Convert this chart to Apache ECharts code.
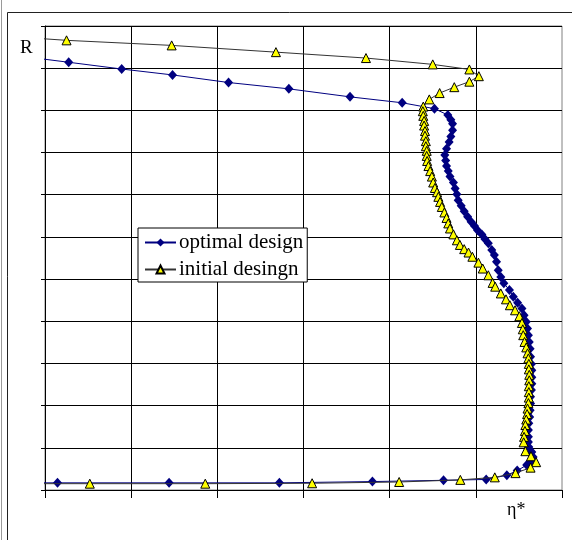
<!DOCTYPE html>
<html>
<head>
<meta charset="utf-8">
<script src="https://cdn.jsdelivr.net/npm/echarts@6/dist/echarts.min.js"></script>
<style>
  html, body { margin: 0; padding: 0; background: #ffffff; }
  #chart { width: 572px; height: 540px; }
</style>
</head>
<body>
<div id="chart"></div>
<script>
// Axis settings (no tick labels are printed on the reference)
var etaMin = 0, etaMax = 1.2, etaStep = 0.2;
var rMin = 0, rMax = 1.1, rStep = 0.1;

var seriesNames = ['optimal design', 'initial desingn'];

// optimal design (eta*, R)
var optimalEta = [-0.007, 0.055, 0.178, 0.296, 0.426, 0.566, 0.708, 0.829, 0.904, 0.935, 0.942, 0.946, 0.946, 0.942, 0.938, 0.932, 0.928, 0.930, 0.932, 0.936, 0.940, 0.948, 0.952, 0.956, 0.959, 0.966, 0.973, 0.981, 0.989, 0.997, 1.004, 1.014, 1.021, 1.029, 1.037, 1.043, 1.048, 1.052, 1.058, 1.065, 1.078, 1.087, 1.097, 1.107, 1.112, 1.117, 1.120, 1.122, 1.124, 1.126, 1.127, 1.129, 1.130, 1.130, 1.130, 1.129, 1.127, 1.127, 1.126, 1.125, 1.123, 1.122, 1.122, 1.122, 1.123, 1.130, 1.133, 1.127, 1.118, 1.096, 1.072, 1.024, 0.925, 0.760, 0.544, 0.288, 0.029, -0.007];
var optimalR = [1.022, 1.014, 0.998, 0.984, 0.966, 0.951, 0.932, 0.918, 0.904, 0.889, 0.878, 0.868, 0.853, 0.838, 0.825, 0.809, 0.794, 0.781, 0.768, 0.756, 0.743, 0.729, 0.715, 0.701, 0.687, 0.674, 0.661, 0.648, 0.636, 0.626, 0.616, 0.606, 0.595, 0.585, 0.569, 0.557, 0.541, 0.521, 0.505, 0.490, 0.474, 0.458, 0.444, 0.430, 0.414, 0.399, 0.383, 0.367, 0.351, 0.335, 0.316, 0.299, 0.284, 0.267, 0.252, 0.237, 0.221, 0.205, 0.189, 0.173, 0.158, 0.142, 0.126, 0.114, 0.102, 0.090, 0.078, 0.066, 0.059, 0.046, 0.035, 0.025, 0.023, 0.020, 0.017, 0.017, 0.017, 0.017];

// initial design (eta*, R)
var initialEta = [-0.007, 0.050, 0.294, 0.536, 0.745, 0.900, 0.985, 1.007, 0.985, 0.950, 0.916, 0.892, 0.878, 0.877, 0.878, 0.880, 0.880, 0.882, 0.882, 0.884, 0.884, 0.886, 0.886, 0.887, 0.890, 0.894, 0.898, 0.901, 0.905, 0.910, 0.913, 0.917, 0.921, 0.927, 0.932, 0.936, 0.940, 0.948, 0.956, 0.963, 0.973, 0.983, 0.992, 1.006, 1.016, 1.029, 1.039, 1.045, 1.058, 1.070, 1.079, 1.091, 1.101, 1.107, 1.109, 1.110, 1.113, 1.117, 1.120, 1.122, 1.123, 1.123, 1.124, 1.124, 1.123, 1.123, 1.123, 1.122, 1.120, 1.119, 1.117, 1.115, 1.114, 1.112, 1.111, 1.115, 1.128, 1.140, 1.127, 1.092, 1.044, 0.964, 0.822, 0.620, 0.372, 0.104, -0.007];
var initialR = [1.070, 1.066, 1.054, 1.038, 1.024, 1.009, 0.997, 0.981, 0.968, 0.955, 0.941, 0.926, 0.909, 0.898, 0.887, 0.875, 0.864, 0.851, 0.840, 0.827, 0.815, 0.804, 0.792, 0.780, 0.768, 0.756, 0.743, 0.729, 0.716, 0.706, 0.695, 0.683, 0.671, 0.658, 0.645, 0.632, 0.620, 0.606, 0.592, 0.581, 0.571, 0.563, 0.553, 0.539, 0.525, 0.509, 0.491, 0.482, 0.466, 0.452, 0.438, 0.426, 0.412, 0.396, 0.381, 0.367, 0.351, 0.338, 0.324, 0.312, 0.299, 0.286, 0.273, 0.260, 0.246, 0.232, 0.219, 0.206, 0.193, 0.180, 0.167, 0.154, 0.140, 0.126, 0.113, 0.092, 0.080, 0.066, 0.053, 0.040, 0.030, 0.024, 0.019, 0.016, 0.015, 0.015, 0.015];

function zip(xs, ys) {
  var out = [];
  for (var i = 0; i < xs.length; i++) out.push([xs[i], ys[i]]);
  return out;
}

var chart = echarts.init(document.getElementById('chart'), null, { renderer: 'canvas' });
var serif = 'Liberation Serif, Times New Roman, serif';

chart.setOption({
  animation: false,
  backgroundColor: '#ffffff',
  grid: {
    left: 45, top: 26, right: 10, bottom: 50,
    show: true, borderColor: '#808080', borderWidth: 1, backgroundColor: 'transparent'
  },
  graphic: [
    { type: 'line', shape: { x1: 1.5, y1: 0, x2: 1.5, y2: 540 }, style: { stroke: '#9a9a9a', lineWidth: 1 } },
    { type: 'line', shape: { x1: 7.5, y1: 12.5, x2: 7.5, y2: 540 }, style: { stroke: '#222', lineWidth: 1 } },
    { type: 'line', shape: { x1: 7.5, y1: 12.5, x2: 572, y2: 12.5 }, style: { stroke: '#222', lineWidth: 1 } },
    { type: 'text', left: 20, top: 39, style: { text: 'R', font: '19px ' + serif, fill: '#000' } },
    { type: 'text', left: 507, top: 501, style: { text: 'η*', font: '18px ' + serif, fill: '#000' } }
  ],
  legend: {
    data: seriesNames,
    orient: 'vertical',
    left: 138, top: 228,
    padding: [4, 4, 2, 6],
    itemWidth: 31, itemHeight: 10, itemGap: 6,
    backgroundColor: '#ffffff',
    borderColor: '#000', borderWidth: 1,
    textStyle: { fontFamily: serif, fontSize: 21, color: '#000', padding: [0, 0, 0, -2] }
  },
  xAxis: {
    type: 'value', min: etaMin, max: etaMax, interval: etaStep,
    axisLabel: { show: false },
    axisLine: { show: true, onZero: false, lineStyle: { color: '#000', width: 1 } },
    axisTick: { show: true, inside: false, length: 8, lineStyle: { color: '#000' } },
    splitLine: { show: true, showMaxLine: false, lineStyle: { color: '#000', width: 1 } }
  },
  yAxis: {
    type: 'value', min: rMin, max: rMax, interval: rStep,
    axisLabel: { show: false },
    axisLine: { show: true, onZero: false, lineStyle: { color: '#000', width: 1 } },
    axisTick: { show: true, inside: false, length: 4, lineStyle: { color: '#000' } },
    splitLine: { show: true, lineStyle: { color: '#000', width: 1 } }
  },
  series: [
    {
      name: seriesNames[0], type: 'line',
      data: zip(optimalEta, optimalR),
      symbol: 'diamond', symbolSize: [9, 10],
      lineStyle: { color: '#000080', width: 1 },
      itemStyle: { color: '#000080', borderColor: '#000080', borderWidth: 0 },
      z: 2
    },
    {
      name: seriesNames[1], type: 'line',
      data: zip(initialEta, initialR),
      symbol: 'triangle', symbolSize: 9,
      lineStyle: { color: '#333333', width: 1 },
      itemStyle: { color: '#ffff00', borderColor: '#000', borderWidth: 1 },
      z: 3
    }
  ]
});
</script>
</body>
</html>
